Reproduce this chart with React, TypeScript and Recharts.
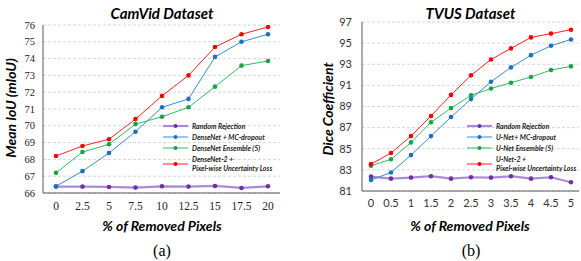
import React from 'react';
import { LineChart, Line, XAxis, YAxis, CartesianGrid, Legend } from 'recharts';

// ---------- CamVid data ----------
const camvidX = ['0', '2.5', '5', '7.5', '10', '12.5', '15', '17.5', '20'];
const camvidRandom = [66.38, 66.38, 66.36, 66.32, 66.4, 66.38, 66.42, 66.3, 66.4];
const camvidMC = [66.4, 67.3, 68.38, 69.65, 71.1, 71.6, 74.1, 75.0, 75.45];
const camvidEns = [67.2, 68.44, 68.9, 70.1, 70.54, 71.1, 72.33, 73.58, 73.86];
const camvidPix = [68.2, 68.8, 69.2, 70.4, 71.78, 73.0, 74.69, 75.45, 75.88];
const camvidYTicks = [66, 67, 68, 69, 70, 71, 72, 73, 74, 75, 76];
const camvidNames = ['Random Rejection', 'DenseNet + MC-dropout', 'DenseNet Ensemble (5)', 'DenseNet-2 +\nPixel-wise Uncertainty Loss'];

// ---------- TVUS data ----------
const tvusX = ['0', '0.5', '1', '1.5', '2', '2.5', '3', '3.5', '4', '4.5', '5'];
const tvusRandom = [82.36, 82.17, 82.27, 82.4, 82.17, 82.3, 82.27, 82.4, 82.17, 82.3, 81.83];
const tvusMC = [82.05, 82.75, 84.4, 86.2, 88.0, 89.7, 91.35, 92.7, 93.86, 94.75, 95.35];
const tvusEns = [83.4, 84.0, 85.6, 87.5, 88.85, 90.05, 90.7, 91.25, 91.8, 92.45, 92.8];
const tvusPix = [83.54, 84.6, 86.2, 88.1, 90.1, 91.95, 93.45, 94.5, 95.54, 95.9, 96.27];
const tvusYTicks = [81, 83, 85, 87, 89, 91, 93, 95, 97];
const tvusNames = ['Random Rejection', 'U-Net+ MC-dropout', 'U-Net Ensemble (5)', 'U-Net-2 +\nPixel-wise Uncertainty Loss'];

const keys = ['random', 'mc', 'ens', 'pix'];
const lineColors = ['#a98bdc', '#3a8ad6', '#2cbb62', '#ff2020'];
const dotColors = ['#7030a0', '#1f6fc0', '#16a44a', '#ff0000'];
const lineWidths = [2.2, 1, 1, 1];

const build = (xs: string[], a: number[], b: number[], c: number[], d: number[]) =>
  xs.map((x, i) => ({ x, random: a[i], mc: b[i], ens: c[i], pix: d[i] }));

const camvidData = build(camvidX, camvidRandom, camvidMC, camvidEns, camvidPix);
const tvusData = build(tvusX, tvusRandom, tvusMC, tvusEns, tvusPix);

const legendFont = 'Lato, "Open Sans", sans-serif';
const serifFont = 'Liberation Serif, DejaVu Serif, serif';

const makeLegend = (names: string[]) => () => (
  <div style={{ position: 'relative', width: 120, height: 60, fontFamily: legendFont, fontWeight: 700, fontStyle: 'italic', fontSize: 7, color: '#222', textAlign: 'left' }}>
    {names.map((n, i) => {
      const top = i < 3 ? i * 11.4 : 38.6;
      const lines = n.split('\n');
      return (
        <div key={i} style={{ position: 'absolute', left: 0, top, height: 1, width: 120 }}>
          <svg width={26} height={8} style={{ position: 'absolute', left: 0, top: -4 }}>
            <line x1={0} y1={4} x2={25} y2={4} stroke={lineColors[i]} strokeWidth={i === 0 ? 2.2 : 1} />
            <circle cx={12.5} cy={4} r={2} fill={dotColors[i]} />
          </svg>
          {lines.length === 1 ? (
            <div style={{ position: 'absolute', left: 29, top: -5, lineHeight: '10px', whiteSpace: 'nowrap' }}>{lines[0]}</div>
          ) : (
            <div style={{ position: 'absolute', left: 29, top: -9.5, lineHeight: '9.5px', whiteSpace: 'nowrap' }}>
              {lines[0]}<br />{lines[1]}
            </div>
          )}
        </div>
      );
    })}
  </div>
);

const makeXTick = (font: string, size: number, color: string) => (props: any) => {
  const { x, y, payload } = props;
  return (
    <text x={x} y={y} dy={size * 0.75} textAnchor="middle" fontFamily={font} fontSize={size} fill={color}>
      {payload.value}
    </text>
  );
};

const makeYTick = (font: string, size: number, color: string) => (props: any) => {
  const { x, y, payload } = props;
  return (
    <text x={x} y={y} dy={size * 0.35} textAnchor="end" fontFamily={font} fontSize={size} fill={color}>
      {payload.value}
    </text>
  );
};

type PanelProps = {
  data: any[];
  width: number;
  height: number;
  margin: { top: number; right: number; bottom: number; left: number };
  yWidth: number;
  domain: [number, number];
  ticks: number[];
  yTick: any;
  xTick: any;
  yTickMargin: number;
  xPad: { left: number; right: number };
  names: string[];
  legendPos: { left: number; top: number };
};

const Panel = (p: PanelProps) => (
  <LineChart width={p.width} height={p.height} data={p.data} margin={p.margin}>
    <CartesianGrid vertical={false} stroke="#d6d6d6" strokeDasharray="3 2" yAxisId="l" xAxisId="b" />
    <XAxis dataKey="x" xAxisId="b" axisLine={{ stroke: '#595959' }} tickLine={false} tick={p.xTick} height={20} interval={0} padding={p.xPad} />
    <XAxis dataKey="x" xAxisId="t" orientation="top" axisLine={{ stroke: '#a6a6a6' }} tickLine={false} tick={false} height={0} />
    <YAxis yAxisId="l" domain={p.domain} ticks={p.ticks} interval={0} axisLine={{ stroke: '#595959' }} tickLine={false} tick={p.yTick} width={p.yWidth} tickMargin={p.yTickMargin} allowDataOverflow />
    <YAxis yAxisId="r" orientation="right" domain={p.domain} axisLine={{ stroke: '#a6a6a6' }} tickLine={false} tick={false} width={0} />
    {keys.map((k, i) => (
      <Line
        key={k}
        xAxisId="b"
        yAxisId="l"
        dataKey={k}
        name={p.names[i]}
        type="linear"
        stroke={lineColors[i]}
        strokeWidth={lineWidths[i]}
        dot={{ r: 2.3, fill: dotColors[i], stroke: dotColors[i], strokeWidth: 0 }}
        activeDot={false}
        isAnimationActive={false}
      />
    ))}
    <Legend
      layout="vertical"
      align="center"
      verticalAlign="middle"
      content={makeLegend(p.names)}
      wrapperStyle={{ left: p.legendPos.left, top: p.legendPos.top, width: 120, height: 60, bottom: 'auto', right: 'auto', margin: 0 }}
    />
  </LineChart>
);

const abs = (x: number, y: number, extra: any): any => ({
  position: 'absolute', left: x, top: y, transform: 'translate(-50%, -50%)', whiteSpace: 'nowrap', ...extra,
});

const boldItalic = { fontFamily: legendFont, fontWeight: 700, fontStyle: 'italic', color: '#000' };

export default function App() {
  return (
    <div style={{ position: 'absolute', left: 0, top: 0, width: 581, height: 261, background: '#fff', overflow: 'hidden' }}>
      <div style={{ position: 'absolute', left: 0, top: 0 }}>
        <Panel
          data={camvidData}
          width={290}
          height={261}
          margin={{ top: 25, right: 10, bottom: 48, left: 0 }}
          yWidth={43}
          domain={[66, 76]}
          ticks={camvidYTicks}
          yTick={makeYTick(serifFont, 10.5, '#222')}
          xTick={makeXTick(serifFont, 11.5, '#222')}
          yTickMargin={2}
          xPad={{ left: 13, right: 12 }}
          names={camvidNames}
          legendPos={{ left: 163, top: 125.7 }}
        />
      </div>
      <div style={{ position: 'absolute', left: 290, top: 0 }}>
        <Panel
          data={tvusData}
          width={291}
          height={261}
          margin={{ top: 22, right: 2, bottom: 50, left: 0 }}
          yWidth={72}
          domain={[81, 97]}
          ticks={tvusYTicks}
          yTick={makeYTick(legendFont, 11, '#333')}
          xTick={makeXTick(legendFont, 11, '#333')}
          yTickMargin={4}
          xPad={{ left: 9, right: 8 }}
          names={tvusNames}
          legendPos={{ left: 177, top: 125.7 }}
        />
      </div>
      <div style={abs(162, 12.5, { ...boldItalic, fontSize: 15 })}>CamVid Dataset</div>
      <div style={abs(470.5, 12.5, { ...boldItalic, fontSize: 15 })}>TVUS Dataset</div>
      <div style={abs(10, 108, { ...boldItalic, fontSize: 14, transform: 'translate(-50%, -50%) rotate(-90deg)' })}>Mean IoU (mIoU)</div>
      <div style={abs(327, 109, { ...boldItalic, fontSize: 14, transform: 'translate(-50%, -50%) rotate(-90deg)' })}>Dice Coefficient</div>
      <div style={abs(162, 225, { ...boldItalic, fontSize: 14 })}>% of Removed Pixels</div>
      <div style={abs(470, 225, { ...boldItalic, fontSize: 14 })}>% of Removed Pixels</div>
      <div style={abs(162, 250.5, { fontFamily: serifFont, fontSize: 16, color: '#000' })}>(a)</div>
      <div style={abs(471, 250.5, { fontFamily: serifFont, fontSize: 16, color: '#000' })}>(b)</div>
    </div>
  );
}
